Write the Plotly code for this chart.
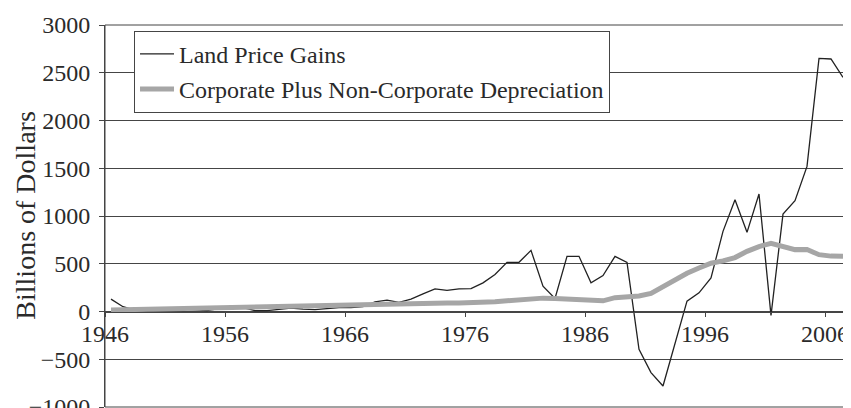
import plotly.graph_objects as go

years = list(range(1946, 2008))

land_price_gains = [
    130, 50, 15, 5, 20, 30, 25, 15, 10, 30,
    55, 40, 10, 10, 20, 35, 25, 20, 30, 40,
    40, 50, 100, 120, 95, 130, 185, 237, 222, 237,
    240, 300, 387, 515, 515, 640, 265, 136, 578, 578,
    300, 376, 578, 515, -397, -640, -780, -340, 108, 195,
    352, 839, 1170, 829, 1230, -40, 1020, 1160, 1519, 2651,
    2644, 2452,
]

depreciation = [
    15, 18, 22, 24, 26, 30, 32, 34, 36, 40,
    44, 46, 46, 48, 50, 52, 55, 58, 62, 66,
    70, 74, 78, 82, 86, 90, 92, 90, 88, 88,
    90, 95, 102, 112, 122, 135, 140, 135, 128, 122,
    108, 112, 145, 155, 162, 190, 260, 340, 400, 455,
    505, 530, 565, 630, 680, 715, 675, 648, 650, 595,
    580, 578,
]

tick_years = [1946, 1956, 1966, 1976, 1986, 1996, 2006]
y_ticks = [-1000, -500, 0, 500, 1000, 1500, 2000, 2500, 3000]

FONT = "Liberation Serif"
INK = "#2a2a2a"
AX = "#454545"

fig = go.Figure()
fig.add_trace(go.Scatter(
    x=years, y=land_price_gains, mode="lines",
    name="Land Price Gains", legendgroup="a",
    line=dict(color="#222222", width=1.3),
))
fig.add_trace(go.Scatter(
    x=years, y=depreciation, mode="lines",
    name="Corporate Plus Non-Corporate Depreciation", legendgroup="b",
    line=dict(color="#a6a6a6", width=5),
))

# the page body adds an 8px offset, so the figure is 8px smaller and margins compensate
fig.update_layout(
    width=843, height=400,
    margin=dict(l=97, r=2, t=17, b=1, autoexpand=False),
    paper_bgcolor="white", plot_bgcolor="white",
    font=dict(family=FONT, size=24, color=INK),
    showlegend=True,
    legend=dict(
        x=0.039, y=0.985, xanchor="left", yanchor="top",
        bgcolor="white", bordercolor=AX, borderwidth=1,
        font=dict(family=FONT, size=24, color=INK),
        traceorder="grouped", tracegroupgap=1,
        itemwidth=34,
    ),
    xaxis=dict(
        range=[1945.5, 2007.5],
        tickvals=[y - 0.5 for y in tick_years],
        ticktext=[str(y) for y in tick_years],
        anchor="free", position=0.25,
        showline=True, linecolor=AX, linewidth=1,
        ticks="outside", ticklen=4, tickcolor=AX,
        showgrid=False, zeroline=False,
        tickfont=dict(family=FONT, size=24, color=INK),
        ticklabelstandoff=-3,
        ticklabeloverflow="allow",
        automargin=False,
    ),
    yaxis=dict(
        range=[-1000, 3000],
        tickvals=y_ticks,
        showline=True, linecolor=AX, linewidth=1,
        ticks="outside", ticklen=5, tickcolor=AX,
        showgrid=True, gridcolor=AX, gridwidth=1,
        zeroline=True, zerolinecolor=AX, zerolinewidth=1,
        tickfont=dict(family=FONT, size=24, color=INK),
        ticklabelstandoff=4,
        ticklabeloverflow="allow",
        automargin=False,
    ),
    shapes=[dict(type="rect", xref="paper", yref="paper", x0=0, x1=1, y0=0, y1=1,
                 line=dict(color=AX, width=1), layer="above")],
    annotations=[dict(
        text="Billions of Dollars", textangle=-90,
        xref="paper", yref="paper", x=-0.108, y=0.5,
        xanchor="center", yanchor="middle", showarrow=False,
        font=dict(family=FONT, size=28, color=INK),
    )],
)

fig.write_html("out.html")
